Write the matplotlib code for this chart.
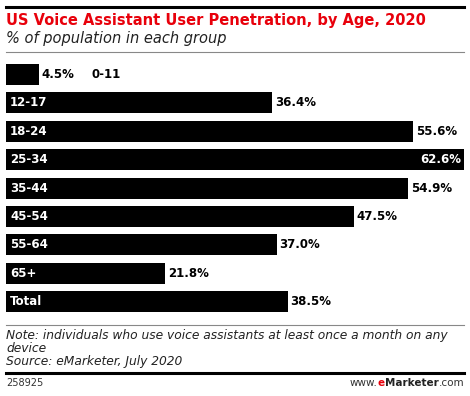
import matplotlib.pyplot as plt
from matplotlib.lines import Line2D

# data
groups = ["0-11", "12-17", "18-24", "25-34", "35-44", "45-54", "55-64", "65+", "Total"]
values = [4.5, 36.4, 55.6, 62.6, 54.9, 47.5, 37.0, 21.8, 38.5]

W, H = 470, 396
fig = plt.figure(figsize=(W / 100, H / 100), dpi=100)
fig.patch.set_facecolor("white")

def px(x, y):
    # pixel coords (top-left origin) -> figure fraction
    return x / W, 1 - y / H

def hline(y, lw, color):
    x0, yy = px(6, y)
    x1, _ = px(464, y)
    fig.add_artist(Line2D([x0, x1], [yy, yy], lw=lw, color=color, transform=fig.transFigure))

# rules
hline(7, 2.2, "black")
hline(52, 0.8, "#888888")
hline(325, 0.8, "#888888")
hline(373, 2.2, "black")

# title / subtitle
fig.text(*px(6, 20), "US Voice Assistant User Penetration, by Age, 2020",
         color="#e8000b", fontsize=10.5, fontweight="bold", va="center", ha="left")
fig.text(*px(6, 39), "% of population in each group",
         color="#222222", fontsize=10.5, style="italic", va="center", ha="left")

# bars
ax = fig.add_axes([6 / W, 1 - 316 / H, 458 / W, 256 / H])
y = list(range(len(groups)))
ax.barh(y, values, height=0.74, color="black")
ax.set_xlim(0, 62.6)
ax.set_ylim(8.5, -0.51)
ax.axis("off")

for i, (g, v) in enumerate(zip(groups, values)):
    if v > 60:
        ax.text(v - 0.4, i, f"{v:.1f}%", color="white", fontsize=8.5,
                fontweight="bold", va="center", ha="right")
    else:
        ax.text(v + 0.4, i, f"{v:.1f}%", color="black", fontsize=8.5,
                fontweight="bold", va="center", ha="left")
    if v < 10:
        ax.text(v + 7.2, i, g, color="black", fontsize=8.5,
                fontweight="bold", va="center", ha="left")
    else:
        ax.text(0.55, i, g, color="white", fontsize=8.5,
                fontweight="bold", va="center", ha="left")

# notes
fig.text(*px(6, 335), "Note: individuals who use voice assistants at least once a month on any",
         fontsize=8.8, style="italic", color="#222222", va="center", ha="left")
fig.text(*px(6, 349), "device", fontsize=8.8, style="italic", color="#222222",
         va="center", ha="left")
fig.text(*px(6, 362), "Source: eMarketer, July 2020", fontsize=8.8, style="italic",
         color="#222222", va="center", ha="left")

# footer
fig.text(*px(6, 383), "258925", fontsize=7, color="#333333", va="center", ha="left")
fx, fy = px(464, 383)
t3 = fig.text(fx, fy, ".com", fontsize=7.5, color="#333333", va="center", ha="right")
fig.canvas.draw()
r = fig.canvas.get_renderer()
bb = t3.get_window_extent(r)
t2 = fig.text(bb.x0 / W, fy, "Marketer", fontsize=7.5, fontweight="bold",
              color="#222222", va="center", ha="right")
bb = t2.get_window_extent(r)
t1 = fig.text(bb.x0 / W, fy, "e", fontsize=7.5, fontweight="bold",
              color="#e8000b", va="center", ha="right")
bb = t1.get_window_extent(r)
fig.text(bb.x0 / W, fy, "www.", fontsize=7.5, color="#333333", va="center", ha="right")

fig.savefig("out.png", dpi=100)
